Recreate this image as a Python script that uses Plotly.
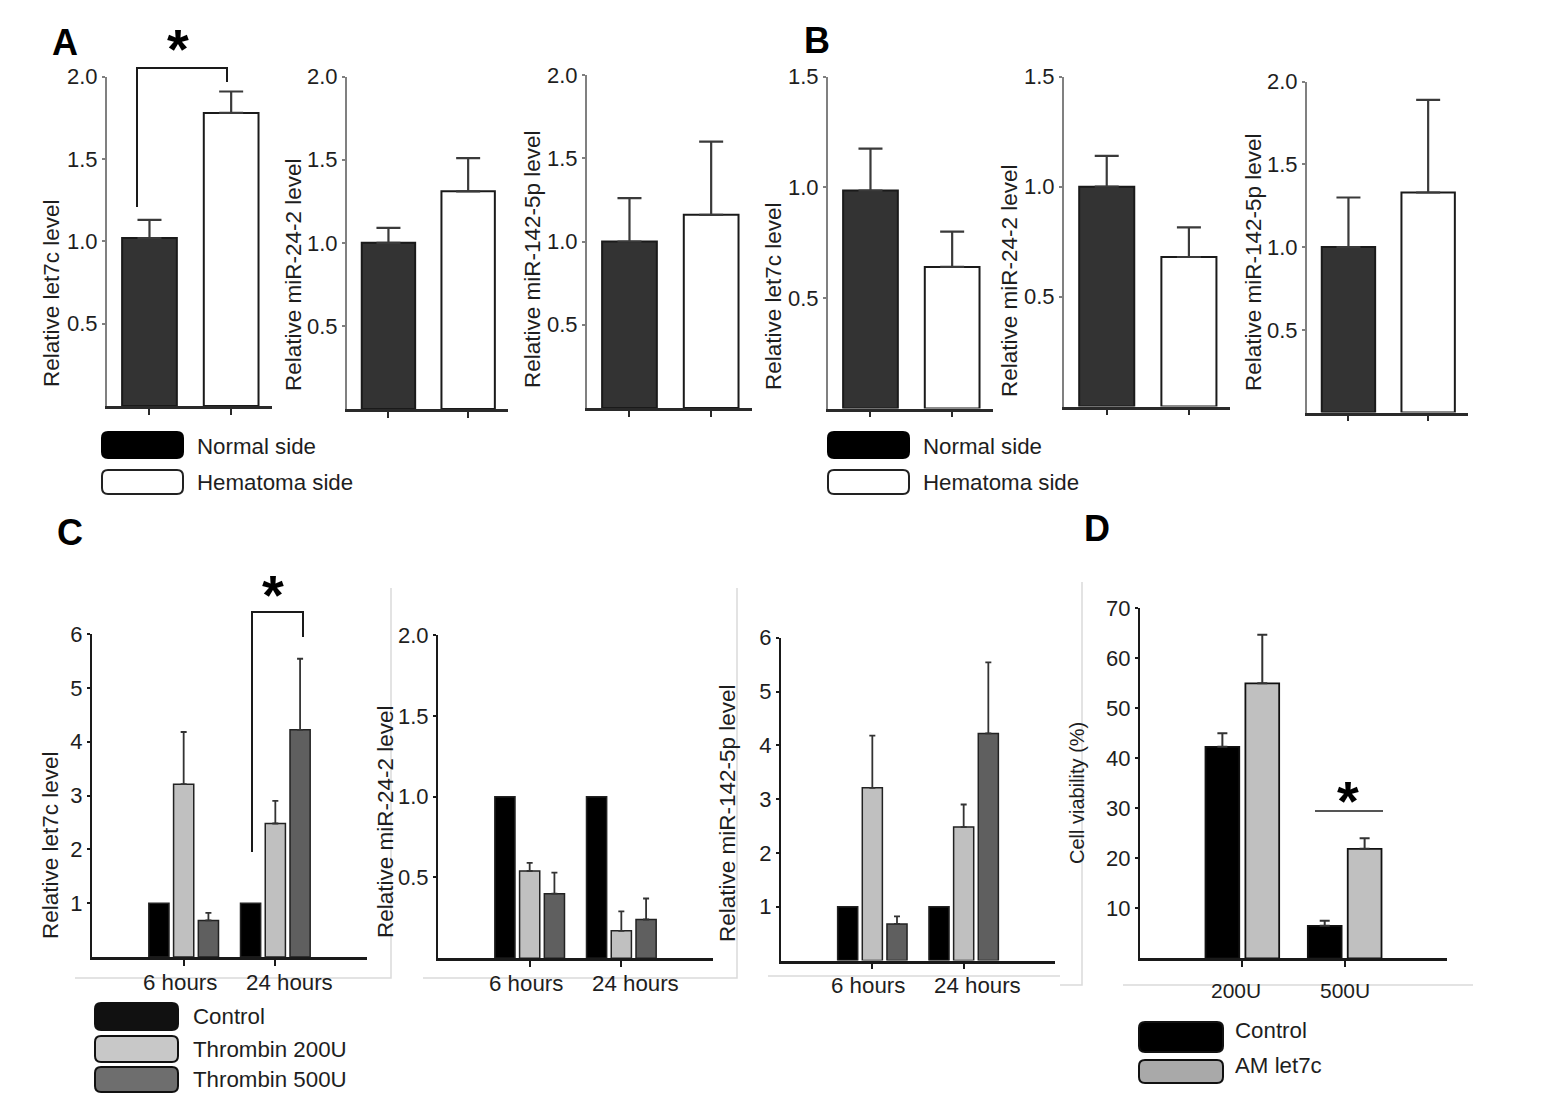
import plotly.graph_objects as go

# ---------------- DATA ----------------
categories_AB = ["Normal side", "Hematoma side"]
A_let7c = [1.02, 1.78]
A_let7c_err = [0.11, 0.13]
A_mir24 = [1.00, 1.31]
A_mir24_err = [0.09, 0.20]
A_mir142 = [1.00, 1.16]
A_mir142_err = [0.26, 0.44]
B_let7c = [0.985, 0.64]
B_let7c_err = [0.19, 0.16]
B_mir24 = [1.00, 0.68]
B_mir24_err = [0.14, 0.135]
B_mir142 = [1.00, 1.33]
B_mir142_err = [0.30, 0.56]

time_points = ["6 hours", "24 hours"]
groups_C = ["Control", "Thrombin 200U", "Thrombin 500U"]
C_let7c_control = [1.0, 1.0]
C_let7c_200 = [3.21, 2.48]
C_let7c_200_err = [0.97, 0.42]
C_let7c_500 = [0.68, 4.22]
C_let7c_500_err = [0.14, 1.32]
C_mir24_control = [1.0, 1.0]
C_mir24_200 = [0.54, 0.17]
C_mir24_200_err = [0.05, 0.12]
C_mir24_500 = [0.40, 0.24]
C_mir24_500_err = [0.13, 0.13]
C_mir142_control = [1.0, 1.0]
C_mir142_200 = [3.21, 2.48]
C_mir142_200_err = [0.97, 0.42]
C_mir142_500 = [0.68, 4.22]
C_mir142_500_err = [0.14, 1.32]

doses_D = ["200U", "500U"]
groups_D = ["Control", "AM let7c"]
D_control = [42.3, 6.5]
D_control_err = [2.7, 1.0]
D_am = [55.0, 21.9]
D_am_err = [9.7, 2.1]

# ---------------- LAYOUT HELPERS ----------------
W, H = 1562, 1110
FONT = "Liberation Sans, Arial, sans-serif"
TXT = "#1e1e1e"


def px(x, y):
    return x / W, 1 - y / H


fig = go.Figure()
layout = dict(
    width=W, height=H, margin=dict(l=0, r=0, t=0, b=0, pad=0, autoexpand=False),
    paper_bgcolor="white", plot_bgcolor="white",
    barmode="overlay", showlegend=False,
    font=dict(family=FONT, color=TXT, size=22),
)
annotations = []
shapes = []


def add_axes(i, xpx, ypx, yrange, yticks, ytfmt, xrange, xcolor, ycolor, ytickfont=22):
    xa = "xaxis" if i == 1 else f"xaxis{i}"
    ya = "yaxis" if i == 1 else f"yaxis{i}"
    xn = "x" if i == 1 else f"x{i}"
    yn = "y" if i == 1 else f"y{i}"
    layout[xa] = dict(
        domain=[xpx[0] / W, xpx[1] / W], anchor=yn, type="category",
        range=xrange, showline=True, linecolor=xcolor, linewidth=2.5,
        ticks="outside", ticklen=6, tickcolor=xcolor, tickwidth=1.5,
        showgrid=False, zeroline=False, showticklabels=False,
        automargin=False, fixedrange=True,
    )
    layout[ya] = dict(
        domain=[1 - ypx[0] / H, 1 - ypx[1] / H], anchor=xn,
        range=yrange, showline=True, linecolor=ycolor, linewidth=2,
        ticks="outside", ticklen=3, tickcolor=ycolor, tickwidth=1.5,
        tickmode="array", tickvals=yticks, tickformat=ytfmt,
        showgrid=False, zeroline=False, automargin=False,
        tickfont=dict(size=ytickfont, color=TXT, family=FONT), fixedrange=True,
    )
    return xn, yn


def ytitle(text, x, y, size=22.5):
    ax, ay = px(x, y)
    annotations.append(dict(text=text, x=ax, y=ay, xref="paper", yref="paper",
                            showarrow=False, textangle=-90, xanchor="center",
                            yanchor="middle", font=dict(size=size, color=TXT, family=FONT)))


def label(text, x, y, size=22.3, bold=False, xanchor="left"):
    ax, ay = px(x, y)
    annotations.append(dict(text=f"<b>{text}</b>" if bold else text, x=ax, y=ay,
                            xref="paper", yref="paper", showarrow=False,
                            xanchor=xanchor, yanchor="middle",
                            font=dict(size=size, color="#000" if bold else TXT, family=FONT)))


def xlabels(xn, cats, y, shifts, size=22.3):
    # category labels placed through the subplot's own x axis
    for c, s in zip(cats, shifts):
        annotations.append(dict(text=c, x=c, xref=xn, y=1 - y / H, yref="paper",
                                xshift=s, showarrow=False, xanchor="center",
                                yanchor="middle", font=dict(size=size, color=TXT, family=FONT)))


def line(pts, color="#1a1a1a", width=2):
    path = ""
    for k, (x, y) in enumerate(pts):
        ax, ay = px(x, y)
        path += ("M" if k == 0 else "L") + f"{ax},{ay} "
    shapes.append(dict(type="path", path=path, xref="paper", yref="paper",
                       line=dict(color=color, width=width)))


def rrect(x0, y0, x1, y1, fill, border, r=6):
    pts = [
        ("M", x0 + r, y0), ("L", x1 - r, y0), ("Q", x1, y0, x1, y0 + r),
        ("L", x1, y1 - r), ("Q", x1, y1, x1 - r, y1), ("L", x0 + r, y1),
        ("Q", x0, y1, x0, y1 - r), ("L", x0, y0 + r), ("Q", x0, y0, x0 + r, y0),
    ]
    path = ""
    for p in pts:
        if p[0] == "Q":
            a = px(p[1], p[2]); b = px(p[3], p[4])
            path += f"Q{a[0]},{a[1]} {b[0]},{b[1]} "
        else:
            a = px(p[1], p[2])
            path += f"{p[0]}{a[0]},{a[1]} "
    path += "Z"
    shapes.append(dict(type="path", path=path, xref="paper", yref="paper",
                       fillcolor=fill, line=dict(color=border, width=2)))


AB_COLORS = ["#333333", "#ffffff"]


def ab_panel(i, vals, errs, xpx, ypx, yrange, yticks):
    xn, yn = add_axes(i, xpx, ypx, yrange, yticks, ".1f", [-0.52, 1.5],
                      "#2a2a2a", "#808080")
    fig.add_trace(go.Bar(
        x=categories_AB, y=vals, width=0.67, xaxis=xn, yaxis=yn,
        marker=dict(color=AB_COLORS, line=dict(color="#1a1a1a", width=2)),
        error_y=dict(type="data", array=errs, arrayminus=[0] * len(errs),
                     symmetric=False, color="#3a3a3a", thickness=2.2, width=12),
    ))


# ---------------- PANEL A ----------------
ab_panel(1, A_let7c, A_let7c_err, (107, 272), (406, 76.7), [0, 2.0], [0.5, 1.0, 1.5, 2.0])
ab_panel(2, A_mir24, A_mir24_err, (347, 508), (409, 76.7), [0, 2.0], [0.5, 1.0, 1.5, 2.0])
ab_panel(3, A_mir142, A_mir142_err, (587, 752), (408, 75), [0, 2.0], [0.5, 1.0, 1.5, 2.0])
# ---------------- PANEL B ----------------
ab_panel(4, B_let7c, B_let7c_err, (828, 993), (408.5, 76.7), [0, 1.5], [0.5, 1.0, 1.5])
ab_panel(5, B_mir24, B_mir24_err, (1064, 1230), (406.5, 76.7), [0, 1.5], [0.5, 1.0, 1.5])
ab_panel(6, B_mir142, B_mir142_err, (1307, 1468), (412.5, 81.7), [0, 2.0], [0.5, 1.0, 1.5, 2.0])

ytitle("Relative let7c level", 52, 293)
ytitle("Relative miR-24-2 level", 293, 275)
ytitle("Relative miR-142-5p level", 532, 259)
ytitle("Relative let7c level", 774, 296)
ytitle("Relative miR-24-2 level", 1009, 281)
ytitle("Relative miR-142-5p level", 1253, 262)

# ---------------- PANEL C ----------------
C_COLORS = ["#000000", "#c0c0c0", "#5f5f5f"]
C_SPACING = 0.27
C_WIDTH = 0.22


def c_panel(i, series, errs, xpx, ypx, yrange, yticks, fmt):
    xn, yn = add_axes(i, xpx, ypx, yrange, yticks, fmt, [-1, 2],
                      "#1a1a1a", "#1a1a1a")
    for k, (vals, err) in enumerate(zip(series, errs)):
        kw = {}
        if err is not None:
            kw["error_y"] = dict(type="data", array=err, arrayminus=[0] * len(err),
                                 symmetric=False, color="#333333", thickness=1.8, width=3)
        fig.add_trace(go.Bar(
            x=time_points, y=vals, name=groups_C[k], width=C_WIDTH,
            offset=(k - 1) * C_SPACING - C_WIDTH / 2, xaxis=xn, yaxis=yn,
            marker=dict(color=C_COLORS[k], line=dict(color="#222222", width=1.5)),
            **kw))
    xlabels(xn, time_points, ypx[0] + 25, [-4, 14])


c_panel(7, [C_let7c_control, C_let7c_200, C_let7c_500],
        [None, C_let7c_200_err, C_let7c_500_err],
        (92, 367), (957, 634), [0, 6], [1, 2, 3, 4, 5, 6], "d")
c_panel(8, [C_mir24_control, C_mir24_200, C_mir24_500],
        [None, C_mir24_200_err, C_mir24_500_err],
        (438, 713), (958.3, 635), [0, 2.0], [0.5, 1.0, 1.5, 2.0], ".1f")
c_panel(9, [C_mir142_control, C_mir142_200, C_mir142_500],
        [None, C_mir142_200_err, C_mir142_500_err],
        (781, 1055), (960.5, 637.7), [0, 6], [1, 2, 3, 4, 5, 6], "d")

ytitle("Relative let7c level", 50, 845)
ytitle("Relative miR-24-2 level", 385, 822)
ytitle("Relative miR-142-5p level", 727, 813)

# ---------------- PANEL D ----------------
D_COLORS = ["#000000", "#c0c0c0"]
D_WIDTH = 0.33
D_SPACING = 0.39
xn, yn = add_axes(10, (1140, 1447), (958.3, 608.3), [0, 70],
                  [10, 20, 30, 40, 50, 60, 70], "d", [-1, 2],
                  "#1a1a1a", "#1a1a1a", ytickfont=22)
for k, (vals, err) in enumerate([(D_control, D_control_err), (D_am, D_am_err)]):
    fig.add_trace(go.Bar(
        x=doses_D, y=vals, name=groups_D[k], width=D_WIDTH,
        offset=(k - 0.5) * D_SPACING - D_WIDTH / 2, xaxis=xn, yaxis=yn,
        marker=dict(color=D_COLORS[k], line=dict(color="#111111", width=1.8)),
        error_y=dict(type="data", array=err, arrayminus=[0] * len(err),
                     symmetric=False, color="#333333", thickness=2, width=5)))
xlabels(xn, doses_D, 990, [-6, 0], size=21)
ytitle("Cell viability (%)", 1077, 793, size=20)

# ---------------- Excel frame lines (faint) ----------------
FR = "#dadada"
line([(391, 588), (391, 978), (75, 978)], FR, 1.5)
line([(737, 588), (737, 978), (423, 978)], FR, 1.5)
line([(768, 976), (1060, 976)], FR, 1.5)
line([(1082, 582), (1082, 985), (1060, 985)], FR, 1.5)
line([(1123, 985), (1473, 985)], FR, 1.5)

# ---------------- significance marks ----------------
line([(137, 207), (137, 68), (227, 68), (227, 82)], "#1a1a1a", 2)
label("*", 178, 48, size=56, bold=True, xanchor="center")
line([(252, 852), (252, 612), (303, 612), (303, 637)], "#1a1a1a", 2)
label("*", 273, 594, size=56, bold=True, xanchor="center")
line([(1315, 811), (1383, 811)], "#555555", 2)
label("*", 1348, 800, size=56, bold=True, xanchor="center")

# ---------------- panel letters ----------------
label("A", 65, 42, size=36, bold=True, xanchor="center")
label("B", 817, 41, size=36, bold=True, xanchor="center")
label("C", 70, 532, size=36, bold=True, xanchor="center")
label("D", 1097, 528, size=36, bold=True, xanchor="center")

# ---------------- legends ----------------
for lx, tx in [(102, 195), (828, 921)]:
    rrect(lx, 432, lx + 81, 458, "#000000", "#000000")
    rrect(lx, 470, lx + 81, 494, "#ffffff", "#222222")
    label(categories_AB[0], tx, 446)
    label(categories_AB[1], tx, 482)

C_LEG = ["#111111", "#c8c8c8", "#6e6e6e"]
for k, (y0, y1) in enumerate([(1003, 1030), (1036, 1062), (1067, 1092)]):
    rrect(95, y0, 178, y1, C_LEG[k], "#111111")
    label(groups_C[k], 191, (y0 + y1) / 2)

D_LEG = ["#000000", "#a9a9a9"]
for k, ((y0, y1), ty) in enumerate([((1022, 1052), 1030), ((1060, 1083), 1065)]):
    rrect(1139, y0, 1223, y1, D_LEG[k], "#111111")
    label(groups_D[k], 1233, ty)

layout["annotations"] = annotations
layout["shapes"] = shapes
fig.update_layout(**layout)
fig.write_html("out.html", config={"displayModeBar": False, "responsive": False})

# remove the browser's default page margin so the figure sits at (0, 0)
with open("out.html", encoding="utf-8") as f:
    html = f.read()
html = html.replace("<head>", "<head><style>html,body{margin:0;padding:0;overflow:hidden;}</style>", 1)
with open("out.html", "w", encoding="utf-8") as f:
    f.write(html)
